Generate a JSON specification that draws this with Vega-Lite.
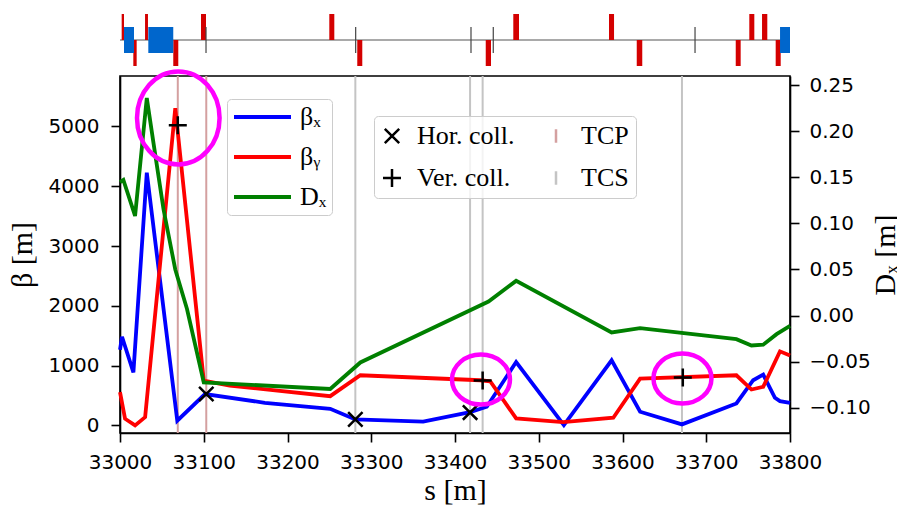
{
  "$schema": "https://vega.github.io/schema/vega-lite/v6.json",
  "padding": {"left": 6, "top": 14, "right": 0, "bottom": 0},
  "spacing": 10,
  "bounds": "flush",
  "config": {
    "view": {"stroke": null},
    "axis": {
      "domainColor": "black", "domainWidth": 1.6, "tickColor": "black", "tickWidth": 1.6, "tickSize": 9,
      "labelFont": "DejaVu Sans", "labelFontSize": 20, "labelColor": "black",
      "titleFont": "Liberation Serif", "titleFontSize": 30, "titleFontWeight": "normal", "titleColor": "black",
      "grid": false
    }
  },
  "vconcat": [
    {
      "width": 670, "height": 52,
      "view": {"stroke": null},
      "layer": [
        {
          "data": {"values": [{"line": "beam"}]},
          "mark": {"type": "rule", "color": "#8c8c8c", "strokeWidth": 1.5},
          "encoding": {"y": {"datum": 0, "type": "quantitative", "scale": {"domain": [-1, 1]}, "axis": null}}
        },
        {
          "data": {"values": [
            {"kind": "QF", "s0": 33002.0, "s1": 33004.8, "y0": 0, "y1": 1},
            {"kind": "QF", "s0": 33029.9, "s1": 33033.4, "y0": 0, "y1": 1},
            {"kind": "QF", "s0": 33096.7, "s1": 33102.7, "y0": 0, "y1": 1},
            {"kind": "QF", "s0": 33249.9, "s1": 33255.9, "y0": 0, "y1": 1},
            {"kind": "QF", "s0": 33469.6, "s1": 33476.4, "y0": 0, "y1": 1},
            {"kind": "QF", "s0": 33583.9, "s1": 33589.9, "y0": 0, "y1": 1},
            {"kind": "QF", "s0": 33751.4, "s1": 33757.4, "y0": 0, "y1": 1},
            {"kind": "QF", "s0": 33766.6, "s1": 33772.9, "y0": 0, "y1": 1},
            {"kind": "QD", "s0": 33015.9, "s1": 33019.9, "y0": -1, "y1": 0},
            {"kind": "QD", "s0": 33063.6, "s1": 33069.6, "y0": -1, "y1": 0},
            {"kind": "QD", "s0": 33283.3, "s1": 33289.3, "y0": -1, "y1": 0},
            {"kind": "QD", "s0": 33436.7, "s1": 33443.0, "y0": -1, "y1": 0},
            {"kind": "QD", "s0": 33617.0, "s1": 33623.6, "y0": -1, "y1": 0},
            {"kind": "QD", "s0": 33735.2, "s1": 33741.1, "y0": -1, "y1": 0},
            {"kind": "QD", "s0": 33782.9, "s1": 33788.9, "y0": -1, "y1": 0},
            {"kind": "MB", "s0": 33004.8, "s1": 33016.7, "y0": -0.5, "y1": 0.5},
            {"kind": "MB", "s0": 33033.8, "s1": 33063.6, "y0": -0.5, "y1": 0.5},
            {"kind": "MB", "s0": 33788.1, "s1": 33800.0, "y0": -0.5, "y1": 0.5}
          ]},
          "mark": {"type": "rect"},
          "encoding": {
            "x": {"field": "s0", "type": "quantitative", "scale": {"domain": [33000, 33800], "nice": false, "zero": false}, "axis": null},
            "x2": {"field": "s1"},
            "y": {"field": "y0", "type": "quantitative", "scale": {"domain": [-1, 1]}, "axis": null},
            "y2": {"field": "y1"},
            "fill": {"field": "kind", "type": "nominal", "scale": {"domain": ["QF", "QD", "MB"], "range": ["#d40000", "#d40000", "#0066cc"]}, "legend": null}
          }
        },
        {
          "data": {"values": [
            {"s": 33102.7}, {"s": 33281.4}, {"s": 33419.1}, {"s": 33445.7}, {"s": 33686.6}
          ]},
          "mark": {"type": "rule", "color": "#444444", "strokeWidth": 1.2},
          "encoding": {
            "x": {"field": "s", "type": "quantitative"},
            "y": {"datum": -0.5, "type": "quantitative"},
            "y2": {"datum": 0.5}
          }
        }
      ]
    },
    {
      "width": 670, "height": 357,
      "view": {"stroke": "black", "strokeWidth": 1.6},
      "layer": [
        {
          "data": {"values": [
            {"s": 33069, "kind": "TCP"}, {"s": 33103, "kind": "TCP"},
            {"s": 33281, "kind": "TCS"}, {"s": 33418, "kind": "TCS"}, {"s": 33433, "kind": "TCS"}, {"s": 33671, "kind": "TCS"}
          ]},
          "mark": {"type": "rule", "strokeWidth": 2},
          "encoding": {
            "x": {"field": "s", "type": "quantitative", "scale": {"domain": [33000, 33800], "nice": false, "zero": false},
              "axis": {"values": [33000, 33100, 33200, 33300, 33400, 33500, 33600, 33700, 33800], "format": "d", "labelFlush": false, "labelOverlap": false,
                "labelPadding": 10, "title": "s [m]", "titleX": 335, "titleY": 66, "titleBaseline": "alphabetic", "titleAlign": "center"}},
            "stroke": {"field": "kind", "type": "nominal",
              "scale": {"domain": ["Hor. coll.", "Ver. coll.", "TCP", "TCS"], "range": ["black", "black", "#d4a0a0", "#c4c4c4"]},
              "legend": {"title": null, "orient": "none", "legendX": 254, "legendY": 102, "columns": 2, "columnPadding": 30, "rowPadding": 16,
                "clipHeight": 26, "padding": 7, "symbolOffset": -2, "labelOffset": 12, "symbolSize": 324, "symbolStrokeWidth": 2.5,
                "labelFont": "Liberation Serif", "labelFontSize": 26, "labelColor": "black",
                "fillColor": "rgba(255,255,255,0.8)", "strokeColor": "#cccccc", "cornerRadius": 4}}
          }
        },
        {
          "data": {"values": [
            {"series": "βₓ", "s": 33000, "beta": 1265},
            {"series": "βₓ", "s": 33002.4, "beta": 1482},
            {"series": "βₓ", "s": 33016, "beta": 886},
            {"series": "βₓ", "s": 33032, "beta": 4227},
            {"series": "βₓ", "s": 33068.4, "beta": 79},
            {"series": "βₓ", "s": 33101.5, "beta": 525},
            {"series": "βₓ", "s": 33173, "beta": 378},
            {"series": "βₓ", "s": 33251, "beta": 278},
            {"series": "βₓ", "s": 33281, "beta": 100},
            {"series": "βₓ", "s": 33362, "beta": 62},
            {"series": "βₓ", "s": 33418, "beta": 222},
            {"series": "βₓ", "s": 33438, "beta": 312},
            {"series": "βₓ", "s": 33473, "beta": 1060},
            {"series": "βₓ", "s": 33530, "beta": 5},
            {"series": "βₓ", "s": 33587, "beta": 1088},
            {"series": "βₓ", "s": 33621, "beta": 228},
            {"series": "βₓ", "s": 33671, "beta": 17},
            {"series": "βₓ", "s": 33736, "beta": 367},
            {"series": "βₓ", "s": 33756, "beta": 755},
            {"series": "βₓ", "s": 33768, "beta": 850},
            {"series": "βₓ", "s": 33782, "beta": 462},
            {"series": "βₓ", "s": 33788, "beta": 405},
            {"series": "βₓ", "s": 33800, "beta": 378},
            {"series": "βᵧ", "s": 33000, "beta": 555},
            {"series": "βᵧ", "s": 33006, "beta": 112},
            {"series": "βᵧ", "s": 33018, "beta": 0},
            {"series": "βᵧ", "s": 33030, "beta": 138},
            {"series": "βᵧ", "s": 33066, "beta": 5305},
            {"series": "βᵧ", "s": 33100, "beta": 750},
            {"series": "βᵧ", "s": 33131, "beta": 667},
            {"series": "βᵧ", "s": 33251, "beta": 489},
            {"series": "βᵧ", "s": 33287, "beta": 838},
            {"series": "βᵧ", "s": 33430, "beta": 755},
            {"series": "βᵧ", "s": 33442, "beta": 738},
            {"series": "βᵧ", "s": 33473, "beta": 117},
            {"series": "βᵧ", "s": 33529, "beta": 55},
            {"series": "βᵧ", "s": 33589, "beta": 128},
            {"series": "βᵧ", "s": 33621, "beta": 783},
            {"series": "βᵧ", "s": 33736, "beta": 838},
            {"series": "βᵧ", "s": 33754, "beta": 600},
            {"series": "βᵧ", "s": 33768, "beta": 645},
            {"series": "βᵧ", "s": 33788, "beta": 1238},
            {"series": "βᵧ", "s": 33800, "beta": 1167}
          ]},
          "mark": {"type": "line", "strokeWidth": 3.8},
          "encoding": {
            "x": {"field": "s", "type": "quantitative"},
            "y": {"field": "beta", "type": "quantitative", "scale": {"domain": [-127, 5843], "nice": false, "zero": false},
              "axis": {"values": [0, 1000, 2000, 3000, 4000, 5000], "format": "d", "labelPadding": 12, "title": "β [m]",
                "titleAngle": 270, "titleX": -83, "titleY": 178.5, "titleAlign": "center", "titleBaseline": "bottom"}},
            "color": {"field": "series", "type": "nominal",
              "scale": {"domain": ["βₓ", "βᵧ", "Dₓ"], "range": ["#0000ff", "#ff0000", "#008000"]},
              "legend": {"title": null, "orient": "none", "legendX": 107, "legendY": 85, "symbolType": "stroke", "symbolSize": 3249, "symbolStrokeWidth": 3.8,
                "clipHeight": 26, "rowPadding": 14, "padding": 5, "labelOffset": 7, "labelFont": "Liberation Serif", "labelFontSize": 26, "labelColor": "black",
                "fillColor": "rgba(255,255,255,0.8)", "strokeColor": "#cccccc", "cornerRadius": 4}}
          }
        },
        {
          "data": {"values": [
            {"series": "Dₓ", "s": 33000, "dx": 0.1447},
            {"series": "Dₓ", "s": 33004, "dx": 0.147},
            {"series": "Dₓ", "s": 33018, "dx": 0.108},
            {"series": "Dₓ", "s": 33032, "dx": 0.236},
            {"series": "Dₓ", "s": 33040, "dx": 0.187},
            {"series": "Dₓ", "s": 33052, "dx": 0.115},
            {"series": "Dₓ", "s": 33066, "dx": 0.050},
            {"series": "Dₓ", "s": 33080, "dx": 0.007},
            {"series": "Dₓ", "s": 33100, "dx": -0.0725},
            {"series": "Dₓ", "s": 33251, "dx": -0.0797},
            {"series": "Dₓ", "s": 33287, "dx": -0.0509},
            {"series": "Dₓ", "s": 33440, "dx": 0.0152},
            {"series": "Dₓ", "s": 33473, "dx": 0.0376},
            {"series": "Dₓ", "s": 33587, "dx": -0.0184},
            {"series": "Dₓ", "s": 33621, "dx": -0.0137},
            {"series": "Dₓ", "s": 33736, "dx": -0.0256},
            {"series": "Dₓ", "s": 33754, "dx": -0.0325},
            {"series": "Dₓ", "s": 33768, "dx": -0.0317},
            {"series": "Dₓ", "s": 33784, "dx": -0.0202},
            {"series": "Dₓ", "s": 33800, "dx": -0.0111}
          ]},
          "mark": {"type": "line", "strokeWidth": 3.8},
          "encoding": {
            "x": {"field": "s", "type": "quantitative"},
            "y": {"field": "dx", "type": "quantitative", "scale": {"domain": [-0.1274, 0.2598], "nice": false, "zero": false},
              "axis": {"orient": "right", "values": [-0.1, -0.05, 0, 0.05, 0.1, 0.15, 0.2, 0.25], "format": ".2f", "labelPadding": 10,
                "title": "Dₓ [m]", "titleAngle": 270, "titleX": 80, "titleY": 178.5, "titleAlign": "center", "titleBaseline": "top"}},
            "color": {"field": "series", "type": "nominal",
              "scale": {"domain": ["βₓ", "βᵧ", "Dₓ"], "range": ["#0000ff", "#ff0000", "#008000"]},
              "legend": {"title": null, "orient": "none", "legendX": 107, "legendY": 85, "symbolType": "stroke", "symbolSize": 3249, "symbolStrokeWidth": 3.8,
                "clipHeight": 26, "rowPadding": 14, "padding": 5, "labelOffset": 7, "labelFont": "Liberation Serif", "labelFontSize": 26, "labelColor": "black",
                "fillColor": "rgba(255,255,255,0.8)", "strokeColor": "#cccccc", "cornerRadius": 4}}
          }
        },
        {
          "data": {"values": [
            {"kind": "Hor. coll.", "s": 33103, "beta": 525},
            {"kind": "Hor. coll.", "s": 33281, "beta": 100},
            {"kind": "Hor. coll.", "s": 33418, "beta": 215},
            {"kind": "Ver. coll.", "s": 33069, "beta": 5020},
            {"kind": "Ver. coll.", "s": 33433, "beta": 750},
            {"kind": "Ver. coll.", "s": 33672, "beta": 800}
          ]},
          "mark": {"type": "point", "filled": false, "size": 324, "strokeWidth": 2.5, "opacity": 1},
          "encoding": {
            "x": {"field": "s", "type": "quantitative"},
            "y": {"field": "beta", "type": "quantitative", "scale": {"domain": [-127, 5843], "nice": false, "zero": false}, "axis": null},
            "shape": {"field": "kind", "type": "nominal",
              "scale": {"domain": ["Hor. coll.", "Ver. coll.", "TCP", "TCS"],
                "range": ["M-0.8,-0.8L0.8,0.8M-0.8,0.8L0.8,-0.8", "M-1,0L1,0M0,-1L0,1", "M0,-0.75L0,0.75M1.8,0L1.8,0", "M0,-0.75L0,0.75M1.8,0L1.8,0"]},
              "legend": {"title": null, "orient": "none", "legendX": 254, "legendY": 102, "columns": 2, "columnPadding": 30, "rowPadding": 16,
                "clipHeight": 26, "padding": 7, "symbolOffset": -2, "labelOffset": 12, "symbolSize": 324, "symbolStrokeWidth": 2.5,
                "labelFont": "Liberation Serif", "labelFontSize": 26, "labelColor": "black",
                "fillColor": "rgba(255,255,255,0.8)", "strokeColor": "#cccccc", "cornerRadius": 4}},
            "stroke": {"field": "kind", "type": "nominal",
              "scale": {"domain": ["Hor. coll.", "Ver. coll.", "TCP", "TCS"], "range": ["black", "black", "#d4a0a0", "#c4c4c4"]},
              "legend": {"title": null, "orient": "none", "legendX": 254, "legendY": 102, "columns": 2, "columnPadding": 30, "rowPadding": 16,
                "clipHeight": 26, "padding": 7, "symbolOffset": -2, "labelOffset": 12, "symbolSize": 324, "symbolStrokeWidth": 2.5,
                "labelFont": "Liberation Serif", "labelFontSize": 26, "labelColor": "black",
                "fillColor": "rgba(255,255,255,0.8)", "strokeColor": "#cccccc", "cornerRadius": 4}}
          }
        },
        {
          "data": {"values": [{"note": "TCP", "s": 33069.6, "beta": 5142}]},
          "mark": {"type": "point", "filled": false, "shape": "M-0.888,0A0.888,1 0 1,0 0.888,0A0.888,1 0 1,0 -0.888,0", "size": 8649, "stroke": "#ff00ff", "strokeWidth": 4.5, "opacity": 1, "clip": false},
          "encoding": {
            "x": {"field": "s", "type": "quantitative"},
            "y": {"field": "beta", "type": "quantitative", "scale": {"domain": [-127, 5843], "nice": false, "zero": false}, "axis": null}
          }
        },
        {
          "data": {"values": [{"note": "TCS", "s": 33431, "beta": 767}, {"note": "TCS", "s": 33671.6, "beta": 785}]},
          "mark": {"type": "point", "filled": false, "shape": "M-1,0A1,0.862 0 1,0 1,0A1,0.862 0 1,0 -1,0", "size": 3364, "stroke": "#ff00ff", "strokeWidth": 4.5, "opacity": 1},
          "encoding": {
            "x": {"field": "s", "type": "quantitative"},
            "y": {"field": "beta", "type": "quantitative", "scale": {"domain": [-127, 5843], "nice": false, "zero": false}, "axis": null}
          }
        }
      ],
      "resolve": {"scale": {"y": "independent"}}
    }
  ]
}
